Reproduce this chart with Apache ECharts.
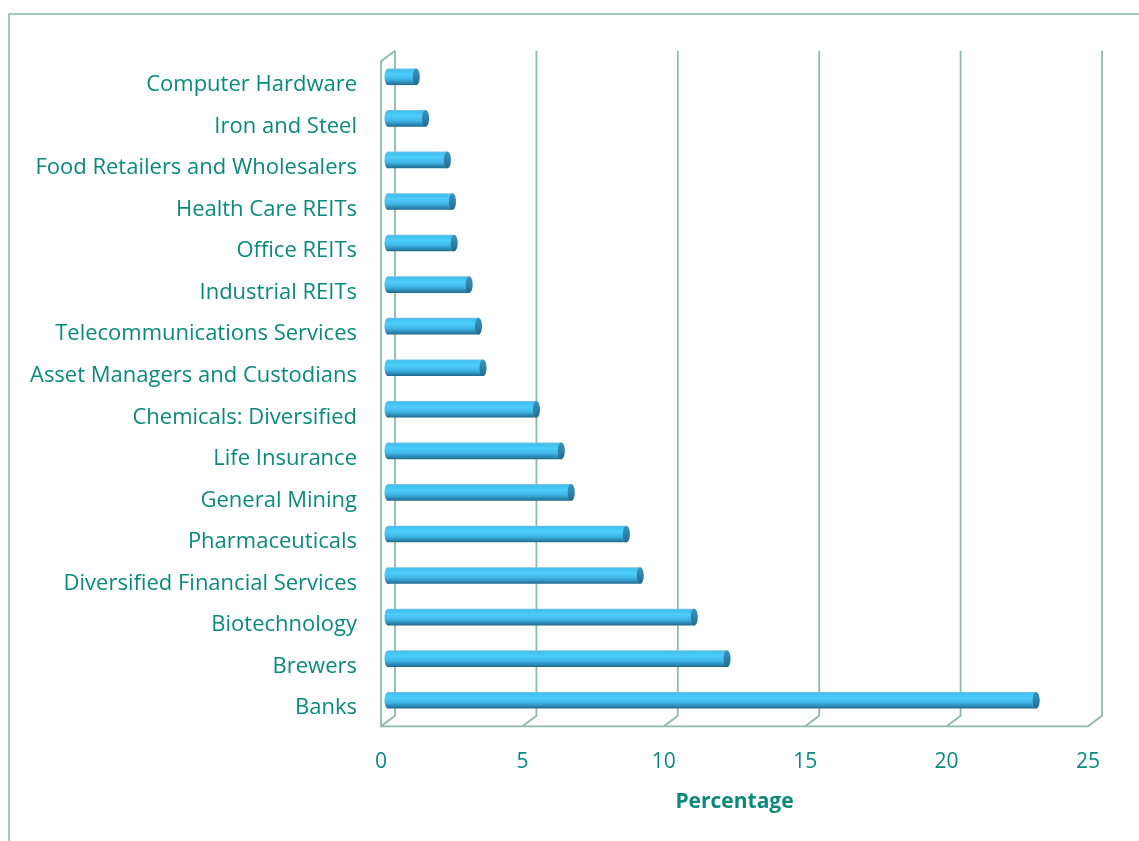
<!DOCTYPE html>
<html><head><meta charset="utf-8">
<script src="https://cdn.jsdelivr.net/npm/echarts@6/dist/echarts.min.js"></script>
<style>html,body{margin:0;padding:0;background:#fff}#c{width:1139px;height:841px}</style>
</head><body><div id="c"></div>
<script>
// Categories listed bottom to top
const categories = ['Banks','Brewers','Biotechnology','Diversified Financial Services','Pharmaceuticals','General Mining','Life Insurance','Chemicals: Diversified','Asset Managers and Custodians','Telecommunications Services','Industrial REITs','Office REITs','Health Care REITs','Food Retailers and Wholesalers','Iron and Steel','Computer Hardware'];
const values = [22.92, 11.99, 10.83, 8.92, 8.43, 6.48, 6.13, 5.25, 3.36, 3.2, 2.87, 2.34, 2.28, 2.1, 1.33, 1.0];
const xTicks = [0, 5, 10, 15, 20, 25];
const axisTitle = 'Percentage';

const TEXT = '#0a8a7a';
const WALL = '#8fb9ab';
const FONT = 'Open Sans';
const DX = 7, DY = 5.3;

const chart = echarts.init(document.getElementById('c'));
const barGrad = new echarts.graphic.LinearGradient(0, 0, 0, 1, [
  {offset: 0, color: '#7cc3df'},
  {offset: 0.1, color: '#3fc0f0'},
  {offset: 0.35, color: '#4ecdfa'},
  {offset: 0.65, color: '#3fb6e6'},
  {offset: 0.85, color: '#2c8bb8'},
  {offset: 1, color: '#22698c'}
]);
const capGrad = new echarts.graphic.LinearGradient(0, 0, 0, 1, [
  {offset: 0, color: '#3a93bb'},
  {offset: 0.5, color: '#2f82ab'},
  {offset: 1, color: '#236a8c'}
]);

chart.setOption({
  animation: false,
  backgroundColor: '#fff',
  textStyle: {fontFamily: FONT},
  graphic: [{type: 'rect', shape: {x: 9, y: 14, width: 1200, height: 900}, style: {fill: null, stroke: '#8bb6a9', lineWidth: 1.5}, silent: true}],
  grid: {left: 388, right: 44, top: 56, bottom: 120},
  xAxis: {
    type: 'value', min: 0, max: 25, interval: 5,
    axisLine: {show: false}, axisTick: {show: false}, splitLine: {show: false},
    axisLabel: {color: TEXT, fontSize: 21, fontFamily: FONT, margin: 31, padding: [0, 14, 0, 0]},
    name: axisTitle, nameLocation: 'middle', nameGap: 71,
    nameTextStyle: {color: TEXT, fontSize: 21, fontWeight: 'bold', fontFamily: FONT, padding: [0, 14, 0, 0]}
  },
  yAxis: {
    type: 'category', data: categories,
    axisLine: {show: false}, axisTick: {show: false}, splitLine: {show: false},
    axisLabel: {color: TEXT, fontSize: 22, fontFamily: FONT, margin: 31, verticalAlign: 'top', lineHeight: 16}
  },
  series: [
    {
      type: 'custom', z: 1, silent: true,
      data: xTicks.map(v => [v, 0]),
      encode: {x: 0, y: 1},
      renderItem: function (params, api) {
        const v = api.value(0);
        const cs = params.coordSys;
        const x = api.coord([v, 0])[0];
        const top = cs.y, bot = cs.y + cs.height;
        const st = {fill: null, stroke: WALL, lineWidth: 1.8};
        const children = [{type: 'polyline', shape: {points: [[x + DX, top - DY], [x + DX, bot - DY], [x - DX, bot + DY]]}, style: st}];
        if (v === xTicks[0]) {
          const xe = api.coord([xTicks[xTicks.length - 1], 0])[0];
          children.push({type: 'polyline', shape: {points: [[x + DX, top - DY], [x - DX, top + DY], [x - DX, bot + DY], [xe - DX, bot + DY]]}, style: st});
        }
        return {type: 'group', children: children};
      }
    },
    {
      type: 'custom', z: 2,
      data: values.map((v, i) => [v, i]),
      encode: {x: 0, y: 1},
      renderItem: function (params, api) {
        const val = api.value(0), idx = api.value(1);
        const s = api.coord([0, idx]);
        const e = api.coord([val, idx]);
        const h = api.size([0, 1])[1] * 0.4;
        const rx = 3.5;
        return {type: 'group', children: [
          {type: 'ellipse', shape: {cx: s[0], cy: s[1], rx: rx, ry: h / 2}, style: {fill: barGrad}},
          {type: 'rect', shape: {x: s[0], y: s[1] - h / 2, width: e[0] - s[0], height: h}, style: {fill: barGrad}},
          {type: 'ellipse', shape: {cx: e[0], cy: e[1], rx: rx, ry: h / 2}, style: {fill: capGrad}}
        ]};
      }
    }
  ]
});
</script></body></html>
